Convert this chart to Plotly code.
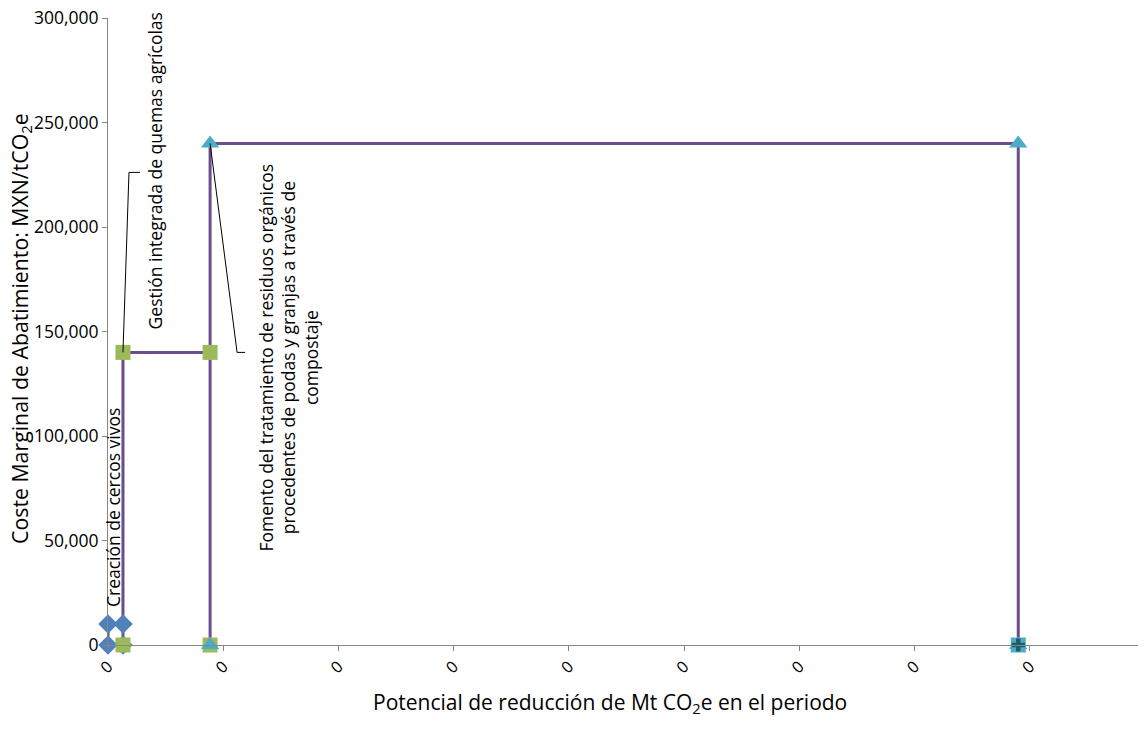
import plotly.graph_objects as go

# --- data ---
measures = ["Creación de cercos vivos",
            "Gestión integrada de quemas agrícolas",
            "Fomento del tratamiento de residuos orgánicos<br>procedentes de podas y granjas a través de<br>compostaje"]
x_start = [0.0, 0.0065, 0.0443]
x_end = [0.0065, 0.0443, 0.395]
cost = [10000, 140000, 240000]
total_x = [0.395]
total_y = [0]
x_ticks = [0, 0.05, 0.10, 0.15, 0.20, 0.25, 0.30, 0.35, 0.40, 0.45]
x_tick_labels = ["0"] * len(x_ticks)
y_ticks = [0, 50000, 100000, 150000, 200000, 250000, 300000]

marker_styles = [
    dict(symbol="diamond", color="#4F81BD", size=15),
    dict(symbol="square", color="#9BBB59", size=15),
    dict(symbol="triangle-up", color="#4BACC6", size=16),
]
FONT = "Open Sans"

fig = go.Figure()

# step outline
ox, oy = [], []
for xs, xe, c in zip(x_start, x_end, cost):
    ox += [xs, xs, xe, xe]
    oy += [0, c, c, 0]
fig.add_trace(go.Scatter(x=ox, y=oy, mode="lines", cliponaxis=False,
                         line=dict(color="#6A4E8C", width=3), hoverinfo="skip"))

for xs, xe, c, ms, name in zip(x_start, x_end, cost, marker_styles, measures):
    fig.add_trace(go.Scatter(x=[xs, xs, xe, xe], y=[0, c, c, 0], mode="markers", cliponaxis=False,
                             marker=dict(symbol=ms["symbol"], color=ms["color"], size=ms["size"],
                                         line=dict(width=0)),
                             name=name))

fig.add_trace(go.Scatter(x=total_x, y=total_y, mode="markers", cliponaxis=False,
                         marker=dict(symbol="square", color="#4BACC6", size=15, line=dict(width=0))))
fig.add_trace(go.Scatter(x=total_x, y=total_y, mode="markers", cliponaxis=False,
                         marker=dict(symbol="cross", color="#1F5C6B", size=11, line=dict(width=0))))

# labels
label_shifts = [(5, 137), (32, 182), (79, -5)]
label_anchor_y = [0, cost[1], cost[1]]
label_anchor_x = [x_start[0], x_start[1], x_start[2]]
for i, name in enumerate(measures):
    fig.add_annotation(x=label_anchor_x[i], y=label_anchor_y[i], text=name, showarrow=False,
                       textangle=-90, xanchor="center", yanchor="middle",
                       xshift=label_shifts[i][0], yshift=label_shifts[i][1],
                       font=dict(family=FONT, size=17.5, color="#000000"), align="center")

# leader lines (pixel offsets relative to the labelled point)
fig.add_shape(type="path", xref="x", yref="y", xsizemode="pixel", ysizemode="pixel",
              xanchor=x_start[1], yanchor=cost[1], path="M0,0 L6,180 L17,180",
              line=dict(color="#000000", width=1))
fig.add_shape(type="path", xref="x", yref="y", xsizemode="pixel", ysizemode="pixel",
              xanchor=x_start[2], yanchor=cost[2], path="M0,0 L27,-209 L35,-209",
              line=dict(color="#000000", width=1))

# axis titles
fig.add_annotation(xref="paper", yref="paper", x=0, y=0.504, xshift=-87,
                   text="Coste Marginal de Abatimiento: MXN/tCO<sub>2</sub>e", showarrow=False,
                   textangle=-90, xanchor="center", yanchor="middle",
                   font=dict(family=FONT, size=21.3, color="#000000"))
fig.add_annotation(xref="paper", yref="paper", x=0.484, y=0, yshift=-58,
                   text="Potencial de reducción de Mt CO<sub>2</sub>e en el periodo", showarrow=False,
                   xanchor="center", yanchor="middle",
                   font=dict(family=FONT, size=21, color="#000000"))

fig.update_layout(
    width=1138, height=736,
    margin=dict(l=100, r=1, t=10, b=99, autoexpand=False),
    paper_bgcolor="white", plot_bgcolor="white",
    showlegend=False,
    font=dict(family=FONT, color="#000000"),
)
fig.update_xaxes(range=[0, 0.45], tickmode="array", tickvals=x_ticks, ticktext=x_tick_labels,
                 tickangle=-45, showgrid=False, zeroline=False, showline=True,
                 linecolor="#868686", linewidth=1, ticks="outside", ticklen=5,
                 tickcolor="#868686", ticklabeloverflow="allow", automargin=False,
                 tickfont=dict(family=FONT, size=16, color="#000000"))
fig.update_yaxes(range=[0, 300000], tickmode="array", tickvals=y_ticks,
                 ticktext=[f"{v:,}" for v in y_ticks],
                 showgrid=False, zeroline=False, showline=True,
                 linecolor="#868686", linewidth=1, ticks="outside", ticklen=5,
                 tickcolor="#868686", ticklabeloverflow="allow", automargin=False,
                 tickfont=dict(family=FONT, size=17.5, color="#000000"))

fig.write_html("out.html")
